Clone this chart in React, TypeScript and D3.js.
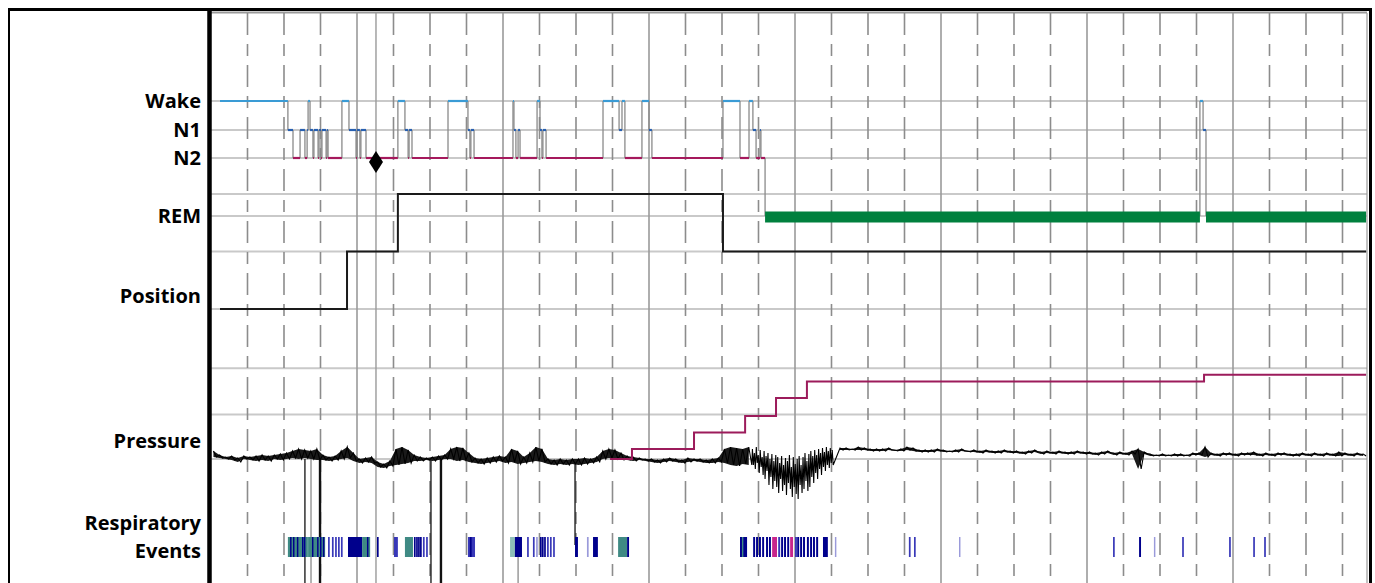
import React from "react";
import * as d3 from "d3";

const W = 1375;
const H = 583;

// ---------- data (time in minutes from recording start) ----------
const END_MIN = 474.7;

const stageLabelNames = ["Wake", "N1", "N2", "REM"];

const hypnoStart = [
  3.7, 31.6, 33.7, 36.6, 38.6, 39.5, 39.9, 40.7, 41.9, 42.3, 44.0, 44.4, 45.2, 45.6, 47.3, 47.7, 48.1,
  53.8, 56.7, 59.6, 60.0, 61.2, 61.6, 63.7, 76.8, 79.7, 81.0, 81.4, 82.6, 97.4, 105.6, 106.4, 106.8,
  108.1, 124.1, 124.5, 125.3, 126.2, 127.0, 134.0, 135.2, 136.0, 136.4, 137.7, 161.1, 167.7, 168.9,
  170.1, 177.1, 180.0, 181.2, 210.4, 217.4, 221.1, 222.7, 224.0, 225.6, 226.0, 227.7, 406.4, 407.7, 408.9,
];
const hypnoStage = [
  "Wake", "N1", "N2", "N1", "N2", "N1", "Wake", "N1", "N2", "N1", "N2", "N1", "N2", "N1", "N2", "N1", "N2",
  "Wake", "N1", "N2", "N1", "N2", "N1", "N2", "Wake", "N1", "N2", "N1", "N2", "Wake", "N1", "N2", "N1",
  "N2", "Wake", "N1", "N2", "N1", "N2", "Wake", "N1", "N2", "N1", "N2", "Wake", "N1", "Wake",
  "N2", "Wake", "N1", "N2", "Wake", "N2", "Wake", "N1", "N2", "N1", "N2", "REM", "Wake", "N1", "REM",
];

const positionStart = [3.7, 55.9, 76.8, 210.4];
const positionLevel = [0, 1, 2, 1];

const lightsOffMin = 67.8;

const pressureStart = [164.0, 173.0, 198.5, 219.5, 232.2, 244.9, 408.1];
const pressureValue = [4.0, 4.6, 5.6, 6.6, 7.7, 8.7, 9.1];

// trace envelope [low, high], first part: every 2.5 min from 1 min
const TRACE_A_T0 = 1;
const TRACE_A_DT = 2.5;
const traceA: [number, number][] = [
  [2, 8], [1, 4], [0, 2], [-1, 3], [-3, 1], [0, 3], [-1, 2], [-2, 3], [-1, 4], [-2, 3],
  [0, 4], [-1, 5], [0, 6], [1, 8], [0, 10], [1, 9], [0, 8], [-1, 10], [-1, 4], [-2, 2],
  [-1, 3], [0, 8], [1, 12], [-2, 6], [-4, 0], [-3, 1], [-4, 2], [-8, -3], [-9, -5], [-7, -2],
  [-6, 10], [-5, 12], [-4, 9], [-2, 4], [-2, 2], [-1, 1], [-2, 2], [-1, 3], [0, 4], [0, 10],
  [-2, 12], [-1, 11], [-3, 6], [-4, 1], [-5, 0], [-4, 1], [-3, 2], [-2, 3], [-4, 2], [-3, 10],
  [-5, 8], [-4, 2], [-3, 6], [-2, 12], [-3, 10], [-5, 0], [-6, -1], [-5, 0], [-6, -1], [-5, 0],
  [-6, 0], [-5, 1], [-4, 0], [-3, 2], [0, 8], [1, 10], [0, 9], [-1, 6], [-1, 3], [-2, 2],
  [-1, 1], [-2, 0], [-3, 0], [-4, -1], [-3, 0], [-2, 1], [-3, 0], [-4, -1], [-3, 1], [-2, 0],
  [-3, 0], [-4, -1], [-4, 0], [-3, 1], [-4, 10], [-6, 12], [-7, 11], [-5, 10], [-6, 12],
];
// arousal burst detail: every 0.8 min from 222.5 min
const BURST_T0 = 222.5;
const BURST_DT = 0.8;
const burstLo = [
  -6, -10, -4, -14, -8, -16, -20, -12, -26, -18, -30, -22, -28, -34, -20, -32, -26, -36, -24, -30, -38,
  -28, -35, -40, -26, -34, -30, -22, -32, -28, -18, -24, -14, -20, -10, -16, -8, -12, -6, -9, -4, -6,
];
const burstHi = [
  10, 6, 12, 4, 9, 2, 8, 3, 6, 0, 5, -2, 4, 2, -4, 3, -6, 1, -2, 4, -8,
  2, -5, 0, 3, -6, 2, 6, -2, 5, 8, 3, 9, 4, 10, 6, 11, 7, 12, 8, 11, 9,
];
// second part: every 2.5 min from 258.5 min
const TRACE_B_T0 = 258.5;
const TRACE_B_DT = 2.5;
const traceB: [number, number][] = [
  [9, 11], [9, 11], [9, 10], [9, 12], [9, 11], [8, 10], [8, 10], [8, 10], [9, 11], [8, 9],
  [8, 10], [9, 12], [8, 11], [7, 9], [7, 9], [7, 9], [8, 10], [7, 9], [7, 8], [7, 9],
  [8, 10], [7, 8], [7, 9], [6, 8], [7, 9], [6, 8], [6, 8], [7, 9], [6, 8], [6, 8],
  [5, 7], [6, 8], [7, 9], [5, 7], [6, 8], [5, 7], [6, 8], [5, 7], [5, 7], [6, 8],
  [5, 7], [5, 7], [4, 6], [5, 7], [6, 8], [4, 6], [5, 7], [4, 6], [5, 8], [-10, 10],
  [5, 7], [3, 5], [3, 4], [3, 5], [3, 4], [3, 5], [3, 5], [3, 4], [4, 6], [4, 6],
  [2, 12], [4, 6], [3, 5], [4, 6], [4, 6], [3, 5], [4, 6], [4, 6], [4, 7], [3, 5],
  [4, 6], [3, 5], [4, 6], [4, 6], [3, 5], [3, 5], [4, 6], [3, 5], [4, 6], [3, 5],
  [4, 6], [3, 5], [3, 7], [4, 6], [3, 5], [4, 6], [3, 5],
];

// off-scale excursions of the trace (time, depth in trace units)
const dropBlackT = [38.6, 44.8, 90.4, 94.5, 149.6];
const dropBlackDepth = [-124, -124, -124, -124, -86];
const dropGrayT = [41.1, 126.2];
const dropGrayDepth = [-124, -124];

// respiratory events: start (min), duration (min), type
const eventStart = [
  31.6, 39.9, 32.5, 33.7, 35.3, 37.4, 38.2, 41.5, 43.6, 44.8, 46.0,
  48.1, 49.7, 51.0, 52.2, 53.4, 56.3, 62.1, 64.1, 68.2, 75.2,
  79.7, 83.4, 84.3, 85.1, 85.9, 87.1, 88.4, 105.6, 106.4,
  122.9, 124.9, 129.9, 132.3, 133.6, 135.2, 136.0, 136.9, 138.1, 139.3, 140.6,
  149.6, 154.5, 157.0, 167.3, 171.0,
  217.4, 218.2, 222.8, 224.0, 225.2, 226.5, 228.1, 229.3, 230.6, 233.1, 234.3, 235.5, 236.8,
  238.0, 240.0, 240.9, 242.1, 243.3, 244.9, 246.2, 247.4, 248.7, 251.5, 256.4,
  286.8, 288.9, 307.4, 370.7, 381.4, 387.5, 399.1, 418.4, 428.3, 432.8,
];
const eventDur = [
  8.2, 7.0, 0.6, 0.6, 0.6, 0.6, 0.6, 0.6, 0.6, 0.6, 0.6,
  0.7, 0.7, 0.7, 0.7, 0.7, 5.8, 3.3, 0.6, 0.7, 1.6,
  3.3, 0.7, 0.7, 0.7, 0.7, 0.7, 0.7, 2.9, 0.7,
  2.0, 2.9, 0.7, 0.7, 0.7, 0.7, 0.7, 0.7, 0.7, 0.7, 0.7,
  1.2, 0.7, 2.0, 3.7, 0.8,
  2.9, 0.5, 0.8, 0.8, 0.8, 0.8, 0.8, 0.8, 2.0, 0.8, 0.8, 0.8, 0.8,
  1.2, 0.8, 0.8, 0.8, 0.8, 0.8, 0.8, 0.8, 0.8, 2.0, 0.6,
  0.7, 0.7, 0.6, 0.7, 0.8, 0.6, 0.7, 0.7, 0.7, 0.7,
];
const eventType = [
  "hyp", "hyp", "obs", "obs", "obs", "obs", "obs", "obs", "obs", "obs", "obs",
  "cen", "cen", "cen", "cen", "cen", "obs", "hyp", "obs", "obs", "cen",
  "hyp", "obs", "obs", "obs", "obs", "cen", "cen", "cen", "obs",
  "hypL", "obs", "cen", "cen", "lite", "obs", "obs", "obs", "cen", "cen", "cen",
  "obs", "lite", "obs", "hyp", "obs",
  "obs", "hyp", "obs", "obs", "obs", "obs", "obs", "obs", "mix", "cen", "obs", "obs", "obs",
  "mix", "cen", "obs", "obs", "obs", "obs", "obs", "obs", "obs", "obs", "lite",
  "cen", "cen", "lite", "cen", "obs", "lite", "cen", "cen", "cen", "cen",
];

// ---------- styles ----------
const stageColor: Record<string, string> = {
  Wake: "#3a9bd5",
  N1: "#2860b0",
  N2: "#a5195c",
  N3: "#6a2a8a",
  REM: "#00803e",
};
const eventColor: Record<string, string> = {
  obs: "#00008c",
  hyp: "#3f8a84",
  hypL: "#8dbfb8",
  cen: "#3838b8",
  lite: "#9a9ada",
  mix: "#c8268c",
};
const LABEL_FONT = "'Open Sans', 'DejaVu Sans', sans-serif";

// layout (pixel rows of the chart panel)
const stageY: Record<string, number> = { Wake: 101, N1: 130, N2: 158, N3: 194, REM: 216 };
const PLOT_L = 211;
const PLOT_R = 1367;
const GRID_TOP = 13;
const EVT_TOP = 537;
const EVT_BOT = 557;

type Env = { t: number; lo: number; hi: number; dt: number };

export default function App() {
  const x = d3.scaleLinear().domain([0, 475]).range([PLOT_L, PLOT_L + (475 * 146) / 60]);
  const posY = d3.scaleLinear().domain([0, 2]).range([309, 194]);
  const presY = d3.scaleLinear().domain([4, 10]).range([459, 360]);
  const trY = d3.scaleLinear().domain([-10, 10]).range([469, 449]);
  const stY = (s: string) => stageY[s];

  // vertical grid
  const quarter = d3.range(15, 475, 15);
  const hourLines = quarter.filter((m) => m % 60 === 0);
  const dashLines = quarter.filter((m) => m % 60 !== 0);

  const hGrid = [stY("Wake"), stY("N1"), stY("N2"), stY("N3"), stY("REM"), posY(1), posY(0), presY(9.5), presY(6.7), presY(4)];

  // hypnogram segments
  const hyp = hypnoStart.map((s, i) => ({
    s,
    e: i + 1 < hypnoStart.length ? hypnoStart[i + 1] : END_MIN,
    stage: hypnoStage[i],
  }));

  const stepLine = d3
    .line<[number, number]>()
    .x((d) => d[0])
    .y((d) => d[1])
    .curve(d3.curveStepAfter);

  const posPts: [number, number][] = positionStart.map((s, i) => [x(s), posY(positionLevel[i])]);
  posPts.push([x(END_MIN), posY(positionLevel[positionLevel.length - 1])]);

  const presPts: [number, number][] = pressureStart.map((s, i) => [x(s), presY(pressureValue[i])]);
  presPts.push([x(END_MIN), presY(pressureValue[pressureValue.length - 1])]);

  const envA: Env[] = traceA.map(([lo, hi], i) => ({ t: TRACE_A_T0 + i * TRACE_A_DT, lo, hi, dt: TRACE_A_DT }));
  const envBurst: Env[] = burstLo.map((lo, i) => ({ t: BURST_T0 + i * BURST_DT, lo, hi: burstHi[i], dt: BURST_DT }));
  const envB: Env[] = traceB.map(([lo, hi], i) => ({ t: TRACE_B_T0 + i * TRACE_B_DT, lo, hi, dt: TRACE_B_DT }));

  const envArea = d3
    .area<Env>()
    .x((d) => x(d.t))
    .y0((d) => trY(d.lo))
    .y1((d) => trY(d.hi));

  // zig-zag through all envelope samples (high then low in each interval)
  const zig: [number, number][] = [];
  [...envA, ...envBurst, ...envB].forEach((d) => {
    zig.push([x(d.t), trY(d.hi)]);
    zig.push([x(d.t + d.dt / 2), trY(d.lo)]);
  });
  const plainLine = d3
    .line<[number, number]>()
    .x((d) => d[0])
    .y((d) => d[1]);

  const labels = [
    { t: stageLabelNames[0], y: stY("Wake") },
    { t: stageLabelNames[1], y: stY("N1") },
    { t: stageLabelNames[2], y: stY("N2") },
    { t: stageLabelNames[3], y: stY("REM") },
    { t: "Position", y: 296 },
    { t: "Pressure", y: 441 },
    { t: "Respiratory", y: 523 },
    { t: "Events", y: 551 },
  ];

  const diaX = x(lightsOffMin);
  const diaY = 162;

  return (
    <svg width={W} height={H} style={{ position: "absolute", left: 0, top: 0, background: "#fff" }}>
      <rect x={0} y={0} width={W} height={H} fill="#fff" />
      {/* left label panel */}
      <line x1={9} y1={10} x2={9} y2={H} stroke="#000" strokeWidth={2} />
      <line x1={8} y1={9.5} x2={1372} y2={9.5} stroke="#000" strokeWidth={3} />
      <line x1={PLOT_L} y1={12.5} x2={PLOT_R} y2={12.5} stroke="#9a9a9a" strokeWidth={2} />

      {/* horizontal grid */}
      {hGrid.map((y, i) => (
        <line key={"h" + i} x1={PLOT_L} x2={PLOT_R} y1={y} y2={y} stroke="#c9c9c9" strokeWidth={2} />
      ))}
      {/* vertical grid */}
      {dashLines.map((m) => (
        <line key={"d" + m} x1={x(m)} x2={x(m)} y1={GRID_TOP} y2={H} stroke="#8c8c8c" strokeWidth={1.6} strokeDasharray="22,9,12,9" />
      ))}
      {hourLines.map((m) => (
        <line key={"s" + m} x1={x(m)} x2={x(m)} y1={GRID_TOP} y2={H} stroke="#9a9a9a" strokeWidth={1.6} />
      ))}
      <line x1={diaX} x2={diaX} y1={GRID_TOP} y2={H} stroke="#9a9a9a" strokeWidth={1.4} />

      {/* position */}
      <path d={stepLine(posPts) || ""} fill="none" stroke="#1a1a1a" strokeWidth={2} />

      {/* hypnogram transitions */}
      {hyp.slice(1).map((d, i) => (
        <line
          key={"v" + i}
          x1={x(d.s)}
          x2={x(d.s)}
          y1={stY(hyp[i].stage)}
          y2={stY(d.stage)}
          stroke="#8a8a8a"
          strokeWidth={1.3}
        />
      ))}
      {hyp
        .filter((d) => d.stage !== "REM")
        .map((d, i) => (
          <line
            key={"hs" + i}
            x1={x(d.s)}
            x2={x(d.e)}
            y1={stY(d.stage)}
            y2={stY(d.stage)}
            stroke={stageColor[d.stage]}
            strokeWidth={2.2}
          />
        ))}
      {hyp
        .filter((d) => d.stage === "REM")
        .map((d, i) => (
          <rect
            key={"rem" + i}
            x={x(d.s)}
            width={x(d.e) - x(d.s)}
            y={stY("REM") - 4.5}
            height={11}
            fill={stageColor.REM}
          />
        ))}

      {/* lights-off marker */}
      <path
        d={`M${diaX},${diaY - 11} L${diaX + 7},${diaY} L${diaX},${diaY + 11} L${diaX - 7},${diaY} Z`}
        fill="#000"
      />

      {/* trace */}
      {dropGrayT.map((t, i) => (
        <line key={"dg" + i} x1={x(t)} x2={x(t)} y1={trY(0)} y2={trY(dropGrayDepth[i])} stroke="#8a8a8a" strokeWidth={1.3} />
      ))}
      {dropBlackT.map((t, i) => (
        <line
          key={"db" + i}
          x1={x(t)}
          x2={x(t)}
          y1={trY(0)}
          y2={trY(dropBlackDepth[i])}
          stroke="#111"
          strokeWidth={i === 1 || i === 3 ? 2.4 : 1.3}
        />
      ))}
      <path d={envArea(envA) || ""} fill="#1a1a1a" stroke="none" />
      <path d={envArea(envB) || ""} fill="#1a1a1a" stroke="none" />
      <path d={plainLine(zig) || ""} fill="none" stroke="#000" strokeWidth={1.1} strokeLinejoin="miter" />

      {/* CPAP pressure */}
      <path d={stepLine(presPts) || ""} fill="none" stroke="#9c1b5b" strokeWidth={2} />

      {/* respiratory events */}
      {eventStart.map((s, i) => (
        <rect
          key={"e" + i}
          x={x(s)}
          width={Math.max(1.4, x(s + eventDur[i]) - x(s))}
          y={EVT_TOP}
          height={EVT_BOT - EVT_TOP}
          fill={eventColor[eventType[i]]}
        />
      ))}

      {/* plot frame */}
      <line x1={209.5} y1={8} x2={209.5} y2={H} stroke="#000" strokeWidth={4.5} />
      <line x1={1367} y1={GRID_TOP} x2={1367} y2={H} stroke="#9a9a9a" strokeWidth={1.2} />
      <line x1={1370.5} y1={8} x2={1370.5} y2={H} stroke="#000" strokeWidth={3} />

      {/* row labels */}
      {labels.map((l) => (
        <text
          key={l.t}
          x={201}
          y={l.y}
          dy="0.36em"
          textAnchor="end"
          fontFamily={LABEL_FONT}
          fontWeight={700}
          fontSize={20}
          fill="#000"
        >
          {l.t}
        </text>
      ))}
    </svg>
  );
}
